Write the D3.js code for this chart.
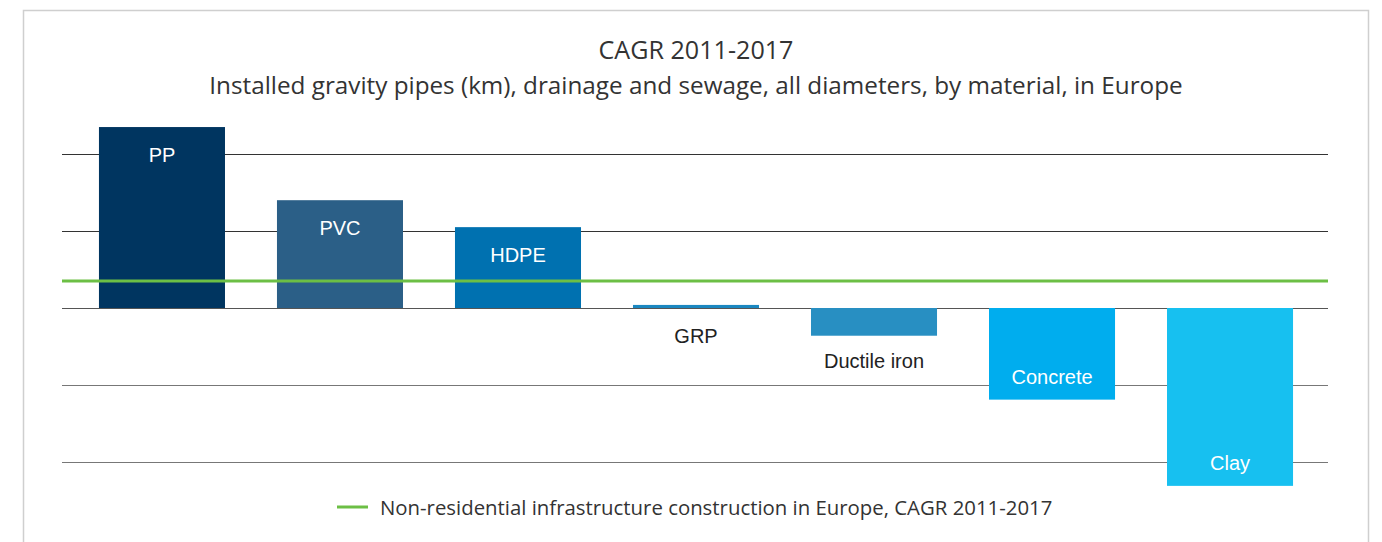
<!DOCTYPE html>
<html><head><meta charset="utf-8">
<script src="https://cdn.jsdelivr.net/npm/d3@7"></script>
<style>
html,body{margin:0;padding:0;background:#fff;}
svg{display:block;}
</style></head>
<body>
<svg id="chart" width="1382" height="542"></svg>
<script>
const categories = ["PP","PVC","HDPE","GRP","Ductile iron","Concrete","Clay"];
const values = [2.35, 1.40, 1.05, 0.04, -0.36, -1.19, -2.31];
const barColors = ["#003560","#2b5f87","#0071b0","#1a87c0","#288fc2","#00adee","#17c0f0"];
const gridTicks = [-2,-1,0,1,2];
const benchmark = 0.35;
const title = "CAGR 2011-2017";
const subtitle = "Installed gravity pipes (km), drainage and sewage, all diameters, by material, in Europe";
const legendLabel = "Non-residential infrastructure construction in Europe, CAGR 2011-2017";

const svg = d3.select("#chart");
const plotL = 62, plotR = 1328;

// frame
svg.append("rect").attr("x",23.5).attr("y",10.5).attr("width",1345).attr("height",560)
  .attr("fill","#fff").attr("stroke","#cfcfcf").attr("stroke-width",1.5);

const x = d3.scaleBand().domain(categories).range([plotL+1, plotR+1]).paddingInner(0.292).paddingOuter(0.202);
const y = d3.scaleLinear().domain([-2,2]).range([462,154]);

// title
const fontT = "'Open Sans', 'Noto Sans', sans-serif";
function fit(sel, target){
  const w = sel.node().getComputedTextLength();
  const fs = +sel.attr("font-size");
  sel.attr("font-size", (fs*target/w).toFixed(2));
}
const t1 = svg.append("text").attr("x",696).attr("y",59).attr("text-anchor","middle")
  .attr("font-family",fontT).attr("font-size",21).attr("fill","#333").text(title);
fit(t1,195);
const t2 = svg.append("text").attr("x",696).attr("y",94).attr("text-anchor","middle")
  .attr("font-family",fontT).attr("font-size",21).attr("fill","#333").text(subtitle);
fit(t2,974);

// gridlines
svg.append("g").selectAll("line").data(gridTicks).join("line")
  .attr("x1",plotL).attr("x2",plotR)
  .attr("y1",d=>Math.round(y(d))+0.5).attr("y2",d=>Math.round(y(d))+0.5)
  .attr("stroke",d=>d>0?"#333":(d<0?"#777":"#555")).attr("stroke-width",1);

// bars
svg.append("g").selectAll("rect").data(categories).join("rect")
  .attr("x",d=>x(d)).attr("width",x.bandwidth())
  .attr("y",(d,i)=>y(Math.max(0,values[i])))
  .attr("height",(d,i)=>Math.abs(y(values[i])-y(0)))
  .attr("fill",(d,i)=>barColors[i]);

// benchmark line
svg.append("line").attr("x1",plotL).attr("x2",plotR)
  .attr("y1",y(benchmark)).attr("y2",y(benchmark))
  .attr("stroke","#6cbf45").attr("stroke-width",3);

// bar labels
const fontL = "'Liberation Sans', Arial, sans-serif";
svg.append("g").selectAll("text").data(categories).join("text")
  .attr("x",d=>x(d)+x.bandwidth()/2)
  .attr("text-anchor","middle").attr("dominant-baseline","central")
  .attr("font-family",fontL).attr("font-size",20)
  .each(function(d,i){
    const v = values[i];
    const h = Math.abs(y(v)-y(0));
    const t = d3.select(this);
    if (h > 60) {
      t.attr("fill","#fff").attr("y", v>0 ? y(v)+28 : y(v)-23);
    } else {
      t.attr("fill","#222").attr("y", v>0 ? y(0)+28 : y(v)+25);
    }
  })
  .text(d=>d);

// legend
svg.append("line").attr("x1",337).attr("x2",368).attr("y1",507).attr("y2",507)
  .attr("stroke","#6cbf45").attr("stroke-width",3);
const lg = svg.append("text").attr("x",380).attr("y",507).attr("dominant-baseline","central")
  .attr("font-family",fontT).attr("font-size",18).attr("fill","#333").text(legendLabel);
fit(lg,673);
</script>
</body></html>
